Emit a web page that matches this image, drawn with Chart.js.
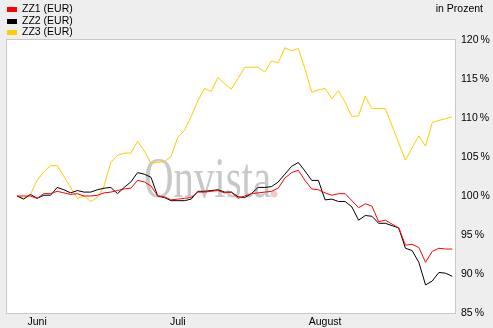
<!DOCTYPE html>
<html>
<head>
<meta charset="utf-8">
<script src="https://cdn.jsdelivr.net/npm/chart.js@4/dist/chart.umd.min.js"></script>
<style>
  html, body { margin: 0; padding: 0; background: #eeeeee; }
  canvas { display: block; }
</style>
</head>
<body>
<canvas id="c" width="493" height="328"></canvas>
<script>
const seriesNames = ['ZZ1 (EUR)', 'ZZ2 (EUR)', 'ZZ3 (EUR)'];
const seriesColors = ['#ff0000', '#000000', '#ffcc00'];

const zz1 = [100.0, 100.0, 100.0, 99.7, 100.3, 100.3, 100.6, 100.4, 100.2, 100.3,
             100.0, 100.0, 100.1, 100.4, 100.5, 100.7, 100.9, 101.0, 102.0, 101.8,
             101.3, 100.0, 99.9, 99.5, 99.6, 99.7, 99.8, 100.5, 100.5, 100.6,
             100.7, 100.4, 100.5, 99.7, 100.0, 100.3, 100.4, 100.5, 100.6, 101.0,
             102.3, 103.0, 103.3, 102.0, 100.9, 100.8, 100.4, 100.1, 100.3, 100.3,
             99.4, 98.5, 99.0, 98.7, 96.7, 96.9, 96.4, 95.9, 93.7, 93.8,
             93.4, 91.5, 92.9, 93.3, 93.2, 93.2];

const zz2 = [100.0, 99.6, 100.2, 99.7, 100.1, 100.1, 101.1, 100.8, 100.4, 100.7,
             100.5, 100.5, 100.8, 101.0, 101.1, 100.3, 101.1, 101.8, 103.0, 102.8,
             102.4, 100.0, 99.8, 99.4, 99.4, 99.4, 99.6, 100.6, 100.6, 100.7,
             100.8, 100.5, 100.5, 99.9, 99.8, 100.3, 101.1, 101.1, 101.2, 101.8,
             102.8, 103.8, 104.3, 103.2, 102.0, 102.0, 99.5, 99.6, 99.3, 99.3,
             98.6, 96.9, 97.5, 97.4, 96.5, 96.5, 96.2, 95.9, 93.3, 93.0,
             91.5, 88.6, 89.1, 90.2, 90.1, 89.7];

const zz3 = [100.0, 99.7, 100.2, 102.0, 103.1, 103.9, 103.9, 102.5, 101.1, 99.7,
             100.0, 99.3, 99.8, 101.3, 104.3, 105.2, 105.5, 105.5, 107.0, 105.8,
             104.2, 104.3, 104.4, 105.1, 107.5, 108.4, 110.2, 112.2, 113.8, 113.4,
             115.2, 114.4, 113.7, 115.1, 116.5, 116.5, 116.5, 115.9, 117.3, 117.1,
             119.0, 118.6, 118.9, 116.3, 113.3, 113.6, 113.8, 112.5, 113.5, 112.0,
             110.2, 110.3, 112.8, 111.2, 111.2, 111.2, 109.0, 106.8, 104.6, 106.2,
             107.7, 106.4, 109.4, 109.7, 109.9, 110.2];

const monthLabels = ['Juni', 'Juli', 'August'];
const monthIndex = [3, 24, 46];
const yTickUnit = '\u2009%';
const unitTitle = 'in Prozent';
const watermark = 'Onvista';

const FONT = '"Liberation Sans", Arial, sans-serif';
const toXY = arr => arr.map((v, i) => ({ x: i, y: v }));

const framePlugin = {
  id: 'frame',
  beforeDraw(chart) {
    const { ctx, chartArea: a } = chart;
    ctx.save();
    ctx.fillStyle = '#eeeeee';
    ctx.fillRect(0, 0, chart.width, chart.height);
    ctx.fillStyle = '#ffffff';
    ctx.fillRect(a.left, a.top, a.right - a.left, a.bottom - a.top);
    ctx.strokeStyle = '#c8c8c8';
    ctx.lineWidth = 1;
    ctx.strokeRect(Math.round(a.left) - 0.5, Math.round(a.top) - 0.5,
                   Math.round(a.right - a.left) + 1, Math.round(a.bottom - a.top) + 1);
    // watermark
    ctx.font = '56px "Liberation Serif", "DejaVu Serif", serif';
    ctx.textBaseline = 'alphabetic';
    ctx.textAlign = 'left';
    const w = ctx.measureText(watermark).width;
    const target = 127;
    ctx.translate(144, 197);
    ctx.scale(target / w, 1);
    ctx.fillStyle = '#c8c8c8';
    ctx.fillText(watermark, 0, 0);
    ctx.restore();
    ctx.save();
    ctx.fillStyle = '#f2caca';
    ctx.beginPath();
    ctx.arc(274, 194, 3.5, 0, Math.PI * 2);
    ctx.fill();
    ctx.restore();
  },
  afterDraw(chart) {
    const { ctx } = chart;
    ctx.save();
    ctx.font = '10.5px ' + FONT;
    ctx.textBaseline = 'middle';
    ctx.textAlign = 'left';
    chart.data.datasets.forEach((ds, i) => {
      const y0 = 7 + Math.round(i * 11.5);
      ctx.fillStyle = ds.borderColor;
      ctx.fillRect(7, y0, 10, 5);
      ctx.fillStyle = '#000';
      ctx.fillText(ds.label, 22, y0 + 2.5);
    });
    ctx.textAlign = 'right';
    ctx.fillText(unitTitle, 483, 9);
    ctx.restore();
  }
};

new Chart(document.getElementById('c'), {
  type: 'line',
  data: {
    datasets: [zz1, zz2, zz3].map((arr, i) => ({
      label: seriesNames[i],
      data: toXY(arr),
      borderColor: seriesColors[i],
      backgroundColor: seriesColors[i],
      borderWidth: 1,
      pointRadius: 0,
      tension: 0,
      fill: false
    }))
  },
  options: {
    responsive: false,
    animation: false,
    devicePixelRatio: 1,
    layout: { padding: { left: 7, top: 40, right: 0, bottom: 0 } },
    plugins: { legend: { display: false }, tooltip: { enabled: false } },
    scales: {
      x: {
        type: 'linear',
        min: -1.5,
        max: 65.4,
        grid: { display: false, drawTicks: false },
        border: { display: false },
        afterBuildTicks: axis => { axis.ticks = monthIndex.map(v => ({ value: v })); },
        afterFit: s => { s.height = 15; },
        ticks: {
          autoSkip: false,
          maxRotation: 0,
          padding: 3,
          color: '#000',
          font: { family: FONT, size: 10.5 },
          callback: v => monthLabels[monthIndex.indexOf(v)]
        }
      },
      y: {
        position: 'right',
        min: 85,
        max: 120,
        grid: { display: false, drawTicks: false },
        border: { display: false },
        afterFit: s => { s.width = 38; },
        ticks: {
          stepSize: 5,
          padding: 6,
          color: '#000',
          font: { family: FONT, size: 10.5 },
          callback: v => v + yTickUnit
        }
      }
    }
  },
  plugins: [framePlugin]
});
</script>
</body>
</html>
